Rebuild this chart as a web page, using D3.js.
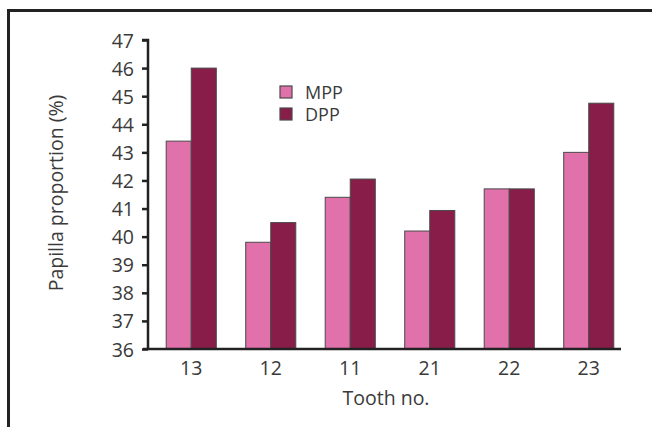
<!DOCTYPE html>
<html lang="en">
<head>
    <meta charset="UTF-8">
    <title>Papilla proportion</title>
    <script src="https://d3js.org/d3.v7.min.js"></script>
    <style>
        body { margin: 0; background: #fff; }
        svg text { font-family: "Open Sans", Lato, sans-serif; fill: #3a3a3a; }
        .tick-label { font-size: 19.5px; }
    </style>
</head>
<body>
    <svg id="chart" width="652" height="427"></svg>

    <script>
        const teeth = ["13", "12", "11", "21", "22", "23"];
        const seriesNames = ["MPP", "DPP"];
        const mpp = [43.4, 39.8, 41.4, 40.2, 41.7, 43.0];
        const dpp = [46.0, 40.5, 42.05, 40.93, 41.7, 44.75];
        const yTicks = [36, 37, 38, 39, 40, 41, 42, 43, 44, 45, 46, 47];
        const colors = ["#e071aa", "#891d4a"];

        const rows = teeth.map((t, i) => ({tooth: t, values: [mpp[i], dpp[i]]}));

        const svg = d3.select("#chart");

        // outer frame (runs off the right and bottom edges)
        svg.append("rect")
            .attr("x", 8.5).attr("y", 10.5)
            .attr("width", 700).attr("height", 500)
            .attr("fill", "none").attr("stroke", "#222").attr("stroke-width", 3);

        const y = d3.scaleLinear().domain([36, 47]).range([349, 40]);
        const x0 = d3.scaleBand().domain(teeth).range([151.5, 628.5])
            .paddingInner(0.37).paddingOuter(0.185);
        const x1 = d3.scaleBand().domain(seriesNames).range([0, x0.bandwidth()]);

        // bars
        const groups = svg.selectAll(".grp")
            .data(rows)
            .enter().append("g")
            .attr("transform", d => `translate(${x0(d.tooth)},0)`);

        groups.selectAll("rect")
            .data(d => d.values.map((v, i) => ({name: seriesNames[i], value: v, i})))
            .enter().append("rect")
            .attr("x", d => x1(d.name))
            .attr("y", d => y(d.value))
            .attr("width", x1.bandwidth())
            .attr("height", d => y(36) - y(d.value))
            .attr("fill", d => colors[d.i])
            .attr("stroke", "#4a4a4a")
            .attr("stroke-width", 1);

        // y axis
        const yAxis = d3.axisLeft(y).tickValues(yTicks).tickSize(6).tickPadding(8);
        svg.append("g")
            .attr("transform", "translate(148,0)")
            .call(yAxis)
            .call(g => g.select(".domain").attr("stroke", "#222").attr("stroke-width", 2.5).attr("d", `M-6,${y(47)}H0V${y(36)}`))
            .call(g => g.selectAll(".tick line").attr("stroke", "#222").attr("stroke-width", 2.5))
            .call(g => g.selectAll(".tick text").attr("class", "tick-label").attr("font-family", null).attr("font-size", null).attr("dy", "0.36em"));

        // x axis
        const xAxis = d3.axisBottom(x0).tickSize(0).tickPadding(12);
        svg.append("g")
            .attr("transform", `translate(0,${y(36)})`)
            .call(xAxis)
            .call(g => g.select(".domain").attr("stroke", "#222").attr("stroke-width", 2.5).attr("d", "M143,0H621"))
            .call(g => g.selectAll(".tick text").attr("class", "tick-label").attr("font-family", null).attr("font-size", null));

        // axis titles
        svg.append("text")
            .attr("x", 386).attr("y", 405)
            .attr("text-anchor", "middle")
            .style("font-size", "19.5px")
            .text("Tooth no.");

        svg.append("text")
            .attr("transform", "translate(63,193) rotate(-90)")
            .attr("text-anchor", "middle")
            .style("font-size", "19.5px")
            .text("Papilla proportion (%)");

        // legend
        const legend = svg.append("g").attr("transform", "translate(280,86)");
        seriesNames.forEach((name, i) => {
            legend.append("rect")
                .attr("x", 0).attr("y", i * 22)
                .attr("width", 12).attr("height", 12)
                .attr("fill", colors[i])
                .attr("stroke", "#4a4a4a").attr("stroke-width", 1.2);
            legend.append("text")
                .attr("x", 25).attr("y", i * 22 + 13)
                .style("font-size", "18px")
                .text(name);
        });
    </script>
</body>
</html>
